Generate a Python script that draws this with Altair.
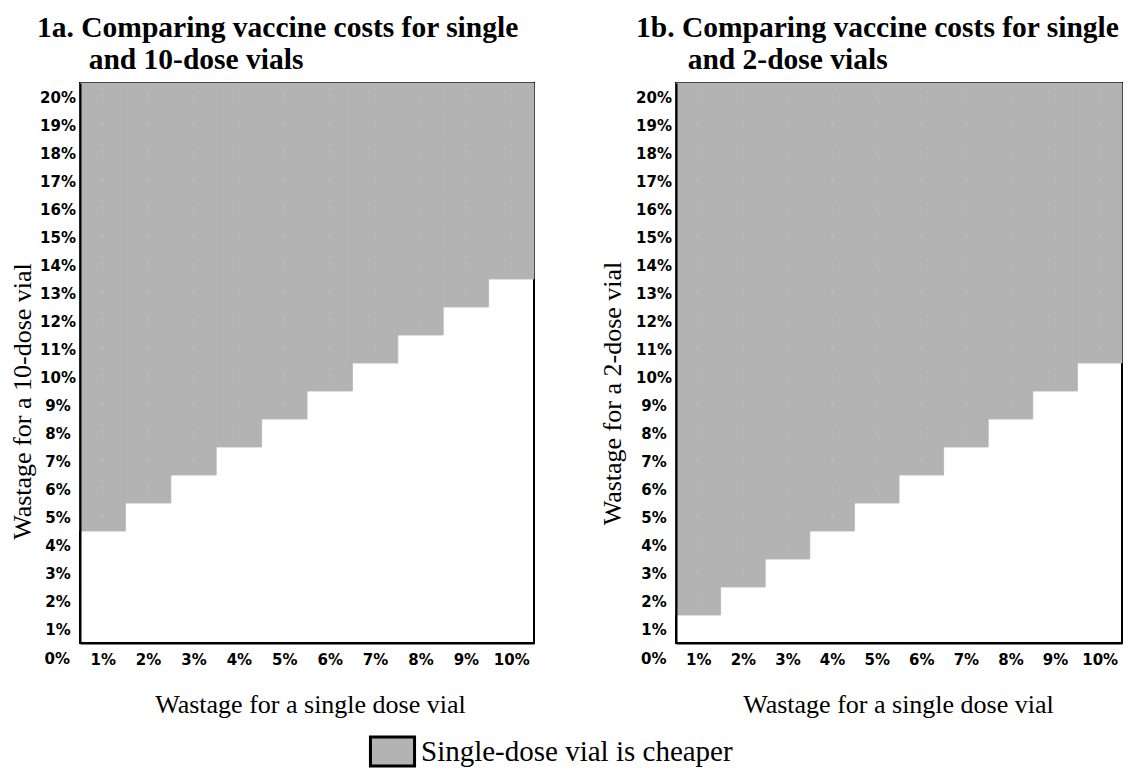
import altair as alt
import pandas as pd

# ---- data ----
x_values = [1, 2, 3, 4, 5, 6, 7, 8, 9, 10]          # wastage for single dose vial (%)
y_values = list(range(1, 21))                         # wastage for multi-dose vial (%)
# first y (in %) from which the single-dose vial is cheaper, per x column
threshold_10dose = [5, 6, 7, 8, 9, 10, 11, 12, 13, 14]
threshold_2dose = [2, 3, 4, 5, 6, 7, 8, 9, 10, 11]
corner_label = "0%"

CHEAP = "Single-dose vial is cheaper"

GRAY = "#b3b3b3"
SERIF = "Liberation Serif"
SANS_B = "DejaVu Sans"


def grid(thresholds):
    rows = []
    for xv, t in zip(x_values, thresholds):
        for yv in y_values:
            if yv >= t:
                rows.append({"col": xv, "row": yv, "status": CHEAP, "value": 1})
    return pd.DataFrame(rows)


def panel(thresholds, title_lines, ytitle, width, height, title_dx,
          ytitle_x, ytitle_y, xtitle_x):
    df = grid(thresholds)
    xs = alt.Scale(domain=[0.5, 10.5], nice=False, zero=False)
    ys = alt.Scale(domain=[0.5, 20.5], nice=False, zero=False)
    cscale = alt.Scale(domain=[CHEAP], range=[GRAY])

    xaxis = alt.Axis(values=x_values, labelExpr="datum.value + '%'",
                     title="Wastage for a single dose vial",
                     titleFont=SERIF, titleFontSize=26,
                     titleFontWeight="normal", titleColor="black",
                     titleBaseline="alphabetic", titleY=69,
                     titleX=xtitle_x,
                     labelFont=SANS_B, labelFontWeight="bold",
                     labelFontSize=15, labelColor="black",
                     labelBaseline="middle", labelPadding=16,
                     labelOverlap=False, labelFlush=False,
                     ticks=False, tickSize=0, grid=False,
                     domain=True, domainColor="black",
                     domainWidth=2, zindex=1)
    yaxis = alt.Axis(values=y_values, labelExpr="datum.value + '%'",
                     title=ytitle, titleFont=SERIF, titleFontSize=26,
                     titleFontWeight="normal", titleColor="black",
                     titleAngle=270, titleAlign="center",
                     titleBaseline="middle",
                     titleX=ytitle_x, titleY=ytitle_y,
                     labelFont=SANS_B, labelFontWeight="bold",
                     labelFontSize=15, labelColor="black",
                     labelAlign="center", labelBaseline="middle",
                     labelPadding=22.5,
                     labelOverlap=False, labelFlush=False,
                     ticks=False, tickSize=0, grid=False,
                     domain=True, domainColor="black",
                     domainWidth=2, zindex=1)

    legend = alt.Legend(
        values=[CHEAP], title=None, orient="none",
        legendX=296, legendY=652, padding=0,
        symbolType="M-1.47,-0.97H1.47V0.97H-1.47Z",
        symbolSize=900, symbolStrokeColor="black",
        symbolStrokeWidth=3, symbolOpacity=1,
        labelFont=SERIF, labelFontSize=29,
        labelColor="black", labelOffset=12,
        labelLimit=0)

    base = alt.Chart(df).transform_calculate(
        x0="datum.col - 0.5", x1="datum.col + 0.5",
        y0="datum.row - 0.5", y1="datum.row + 0.5")

    rect = base.mark_rect(stroke=GRAY, strokeWidth=0.8).encode(
        x=alt.X("x0:Q", scale=xs, axis=xaxis),
        x2="x1:Q",
        y=alt.Y("y0:Q", scale=ys, axis=yaxis),
        y2="y1:Q",
        color=alt.Color("status:N", scale=cscale, legend=legend),
    )

    ones = base.mark_text(
        font="Liberation Sans", fontSize=8, color="#bebebe"
    ).encode(x=alt.X("col:Q", scale=xs, axis=xaxis),
             y=alt.Y("row:Q", scale=ys, axis=yaxis),
             text=alt.Text("value:Q"))

    corner = alt.Chart(pd.DataFrame({"x": [0], "y": [0], "t": [corner_label]})).mark_text(
        font=SANS_B, fontWeight="bold", fontSize=15, color="black",
        baseline="middle", align="center", dy=2
    ).encode(x=alt.X("x:Q", scale=xs, axis=xaxis),
             y=alt.Y("y:Q", scale=ys, axis=yaxis), text="t:N")

    return alt.layer(rect, ones, corner).properties(
        width=width, height=height,
        title=alt.TitleParams(text=title_lines, anchor="start", frame="group",
                              dx=title_dx, font=SERIF, fontSize=29.5,
                              fontWeight="bold", color="black",
                              lineHeight=32, offset=7),
    )


IND = "\u200b" + "\u00a0" * 7
left = panel(threshold_10dose,
             ["1a. Comparing vaccine costs for single", IND + "and 10-dose vials"],
             "Wastage for a 10-dose vial", 454, 560, -43, -58, 318, 230)
right = panel(threshold_2dose,
              ["1b. Comparing vaccine costs for single", IND + "and 2-dose vials"],
              "Wastage for a 2-dose vial", 446, 560, -40, -64, 310, 222)

chart = alt.hconcat(left, right, spacing=62).properties(
    padding={"left": 0, "top": 4, "right": 0, "bottom": 0},
    background="white",
).configure_view(stroke="black", strokeWidth=2)

chart.save("out.html", embed_options={"renderer": "svg", "actions": False})
